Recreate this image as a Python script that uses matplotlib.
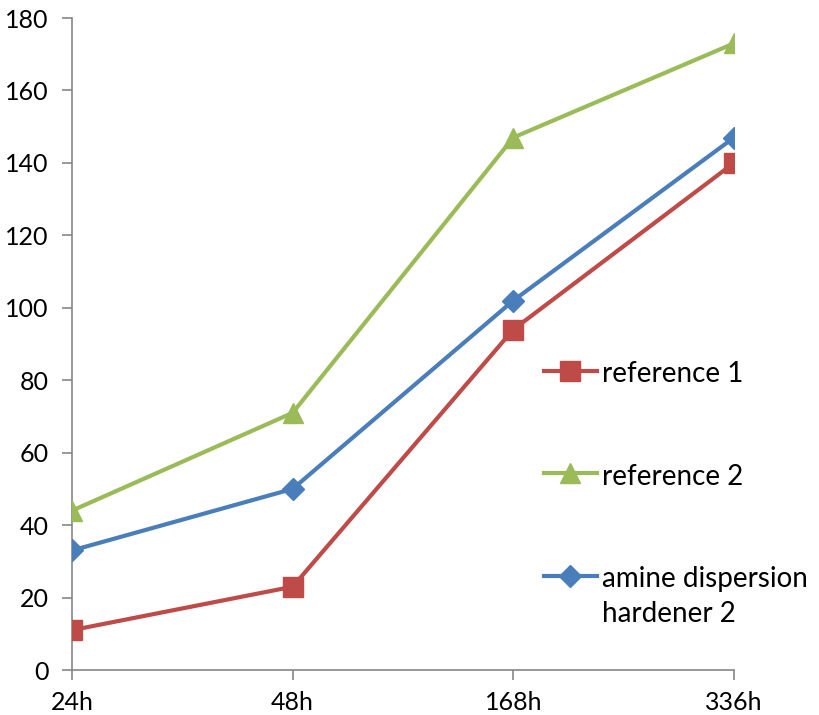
import matplotlib
matplotlib.use("Agg")
import matplotlib.pyplot as plt

categories = ["24h", "48h", "168h", "336h"]
ref1 = [11, 23, 94, 140]
ref2 = [44, 71, 147, 173]
amine = [33, 50, 102, 147]
yticks = [0, 20, 40, 60, 80, 100, 120, 140, 160, 180]

plt.rcParams['font.family'] = ['Lato', 'DejaVu Sans']

fig = plt.figure(figsize=(8.19, 7.15), dpi=100)
ax = fig.add_axes([72/819, 45/715, (734-72)/819, (670-18)/715])

x = list(range(len(categories)))
ax.plot(x, ref1, color="#BE4B48", lw=3, marker="s", ms=14, label="reference 1", zorder=3)
ax.plot(x, ref2, color="#9BBB59", lw=3, marker="^", ms=15, label="reference 2", zorder=3)
ax.plot(x, amine, color="#4A7EBB", lw=3, marker="D", ms=11, label="amine dispersion\nhardener 2", zorder=3)

ax.set_xlim(0, 3)
ax.set_ylim(0, 180)
ax.set_xticks(x)
ax.set_xticklabels(categories)
ax.set_yticks(yticks)
for s in ["top", "right"]:
    ax.spines[s].set_visible(False)
for s in ["left", "bottom"]:
    ax.spines[s].set_color("#868686")
    ax.spines[s].set_linewidth(1.2)
ax.tick_params(axis="both", colors="#868686", length=7, width=1.2, labelcolor="black", labelsize=18)
ax.tick_params(axis="y", pad=10)
ax.tick_params(axis="x", pad=8)
for lbl in ax.get_xticklabels() + ax.get_yticklabels():
    lbl.set_clip_on(False)

leg = ax.legend(loc="upper left", bbox_to_anchor=(0.675, 0.512), frameon=False,
                fontsize=20, labelspacing=2.75, handlelength=1.9, handletextpad=0.2)
leg.get_texts()[2].set_linespacing(1.45)
# align each handle with the first line of its label
for col in leg._legend_handle_box.get_children():
    for row in col.get_children():
        row.align = "top"

fig.savefig("out.png", dpi=100)
